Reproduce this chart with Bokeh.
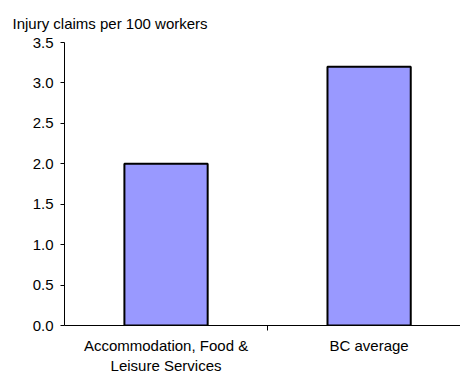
from bokeh.plotting import figure
from bokeh.models import Range1d, FixedTicker, NumeralTickFormatter
from bokeh.embed import file_html
from bokeh.resources import INLINE

# Injury claim rates
title = "Injury claims per 100 workers"
categories = ["Accommodation, Food &\nLeisure Services", "BC average"]
claims = [2.0, 3.2]
y_ticks = [0.0, 0.5, 1.0, 1.5, 2.0, 2.5, 3.0, 3.5]

FONT = "Liberation Sans"
FS = "15px"
centers = [i + 0.5 for i in range(len(categories))]

p = figure(width=460, height=379, output_backend="svg", toolbar_location=None,
           x_range=Range1d(0, 1.95), y_range=Range1d(0, 3.5),
           min_border_left=64, min_border_right=0, min_border_top=42,
           min_border_bottom=54)

p.vbar(x=centers, top=claims, width=0.41, bottom=0,
       fill_color="#9999FF", line_color="black", line_width=2)

p.title.text = title
p.title.text_font = FONT
p.title.text_font_size = FS
p.title.text_font_style = "normal"
p.title.text_color = "black"
p.title.align = "left"
p.title.offset = -52
p.title.standoff = 18
p.title.vertical_align = "top"

p.outline_line_color = None
p.xgrid.grid_line_color = None
p.ygrid.grid_line_color = None

# y axis
p.yaxis.ticker = FixedTicker(ticks=y_ticks)
p.yaxis.formatter = NumeralTickFormatter(format="0.0")
p.yaxis.major_tick_out = 4
p.yaxis.major_tick_in = 0
p.yaxis.minor_tick_line_color = None
p.yaxis.major_label_text_font = FONT
p.yaxis.major_label_text_font_size = FS
p.yaxis.major_label_text_color = "black"
p.yaxis.axis_line_color = "black"
p.yaxis.major_tick_line_color = "black"
p.yaxis.major_label_standoff = 7

# x axis: labels at category centres, tick marks at category boundaries
p.xaxis.ticker = FixedTicker(ticks=centers, minor_ticks=[1.0])
p.xaxis.major_label_overrides = {c: lab for c, lab in zip(centers, categories)}
p.xaxis.major_tick_line_color = None
p.xaxis.minor_tick_line_color = "black"
p.xaxis.minor_tick_out = 5
p.xaxis.minor_tick_in = 0
p.xaxis.major_label_text_font = FONT
p.xaxis.major_label_text_font_size = FS
p.xaxis.major_label_text_color = "black"
p.xaxis.axis_line_color = "black"
p.xaxis.major_label_standoff = 5

open("out.html", "w").write(file_html(p, INLINE))
